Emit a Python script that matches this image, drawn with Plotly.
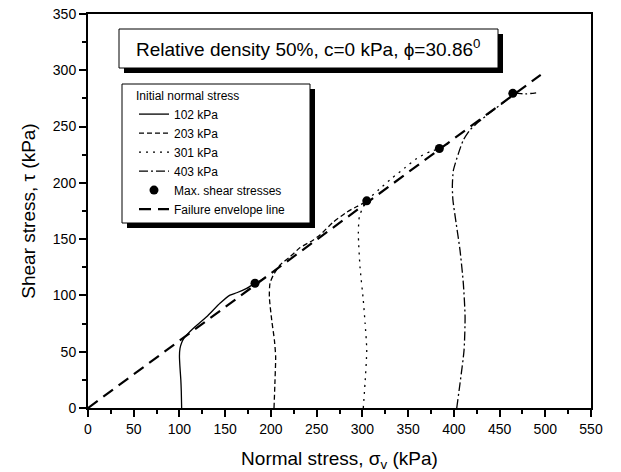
import plotly.graph_objects as go

# ---- data ----
c102_x = [102.4, 102.0, 101.5, 100.5, 100.0, 100.6, 102.4, 105.0, 108.0, 117.0, 129.7, 144.3, 155.3, 162.6, 173.5, 182.6, 188.0, 192.0]
c102_y = [0.0, 15.0, 25.0, 37.0, 46.0, 53.0, 58.0, 62.0, 65.0, 72.2, 81.0, 93.0, 100.3, 102.4, 106.3, 110.8, 113.0, 115.0]

c203_x = [203.4, 204.5, 205.2, 203.8, 200.9, 198.3, 199.0, 202.6, 210.0, 220.9, 232.0, 246.0, 254.0, 268.0, 283.0, 294.0, 305.0]
c203_y = [0.0, 25.0, 45.6, 60.4, 78.0, 98.8, 110.7, 118.0, 127.0, 134.3, 142.5, 149.0, 154.0, 165.0, 174.0, 179.0, 183.5]

c301_x = [301.0, 302.9, 304.8, 303.0, 301.0, 297.4, 295.6, 296.7, 301.0, 304.8, 318.0, 332.0, 346.0, 359.4, 374.0, 384.2, 394.0]
c301_y = [0.0, 22.0, 51.5, 75.0, 95.9, 125.5, 155.0, 170.0, 178.8, 184.1, 194.0, 204.0, 213.0, 221.7, 227.8, 230.5, 235.0]

c403_x = [403.2, 406.8, 411.2, 412.3, 410.4, 406.8, 402.4, 399.0, 398.4, 399.5, 405.0, 410.4, 417.7, 426.9, 443.2, 457.8, 465.0, 478.0, 490.0]
c403_y = [0.0, 22.0, 51.5, 81.0, 110.7, 140.0, 165.0, 185.0, 197.0, 211.0, 226.0, 238.0, 247.0, 254.0, 264.6, 273.5, 279.5, 279.0, 280.0]

max_x = [182.6, 304.8, 384.2, 464.5]
max_y = [110.8, 184.0, 230.5, 279.5]

env_x = [0.0, 495.0]
env_y = [0.0, 296.0]

series_names = ["102 kPa", "203 kPa", "301 kPa", "403 kPa"]
title_text = "Relative density 50%, c=0 kPa, \u03d5=30.86<sup>0</sup>"

FONT = "Liberation Sans, Arial, sans-serif"

fig = go.Figure()
curves = [(c102_x, c102_y, "solid"), (c203_x, c203_y, "5px,3px"),
          (c301_x, c301_y, "2px,5px"), (c403_x, c403_y, "9px,3px,2px,3px")]
for (xs, ys, dash), name in zip(curves, series_names):
    fig.add_trace(go.Scatter(x=xs, y=ys, mode="lines", name=name,
                             line=dict(color="black", width=1.3, dash=dash, shape="spline", smoothing=0.6)))
fig.add_trace(go.Scatter(x=max_x, y=max_y, mode="markers", name="Max. shear stresses",
                         marker=dict(color="black", size=9, symbol="circle")))
fig.add_trace(go.Scatter(x=env_x, y=env_y, mode="lines", name="Failure envelope line",
                         line=dict(color="black", width=2.2, dash="12px,7px")))

axis_common = dict(showgrid=False, zeroline=False, showline=True, linecolor="black", linewidth=2,
                   mirror=True, ticks="outside", ticklen=7, tickwidth=1.5, tickcolor="black",
                   automargin=False,
                   tickfont=dict(family=FONT, size=14, color="black"),
                   minor=dict(ticks="outside", ticklen=4, tickwidth=1.5, tickcolor="black", dtick=25))

fig.update_xaxes(range=[0, 550], dtick=50, tick0=0,
                 title=dict(text="Normal stress, \u03c3<sub>v</sub> (kPa)", font=dict(family=FONT, size=19, color="black"), standoff=16),
                 **axis_common)
fig.update_yaxes(range=[0, 350], dtick=50, tick0=0,
                 title=dict(text="Shear stress, \u03c4 (kPa)", font=dict(family=FONT, size=19, color="black"), standoff=12),
                 **axis_common)

# px -> paper helpers (plot area: x 88..591, y 14..408)
def px(x):
    return (x - 88) / 503.0
def py(y):
    return (408 - y) / 394.0

shapes = [
    # title box shadow + box
    dict(type="rect", xref="paper", yref="paper", x0=px(124), x1=px(503), y0=py(73), y1=py(34),
         fillcolor="black", line=dict(width=0), layer="above"),
    dict(type="rect", xref="paper", yref="paper", x0=px(119), x1=px(498), y0=py(68), y1=py(29),
         fillcolor="white", line=dict(color="black", width=1), layer="above"),
    # legend box shadow + box
    dict(type="rect", xref="paper", yref="paper", x0=px(127), x1=px(315), y0=py(228), y1=py(89),
         fillcolor="black", line=dict(width=0), layer="above"),
    dict(type="rect", xref="paper", yref="paper", x0=px(122), x1=px(310), y0=py(223), y1=py(84),
         fillcolor="white", line=dict(color="black", width=1), layer="above"),
]

fig.update_layout(
    width=621, height=472,
    margin=dict(l=88, r=30, t=14, b=64, autoexpand=False),
    plot_bgcolor="white", paper_bgcolor="white",
    font=dict(family=FONT, color="black"),
    shapes=shapes,
    showlegend=True,
    legend=dict(x=px(134), y=py(84), xanchor="left", yanchor="top",
                bgcolor="rgba(0,0,0,0)", borderwidth=0,
                title=dict(text="Initial normal stress", font=dict(family=FONT, size=12, color="black")),
                font=dict(family=FONT, size=12, color="black"),
                itemwidth=30, tracegroupgap=0),
    annotations=[dict(text=title_text, xref="paper", yref="paper", x=px(308), y=py(48),
                      xanchor="center", yanchor="middle", showarrow=False,
                      font=dict(family=FONT, size=19, color="black"))],
)

fig.write_html("out.html")
